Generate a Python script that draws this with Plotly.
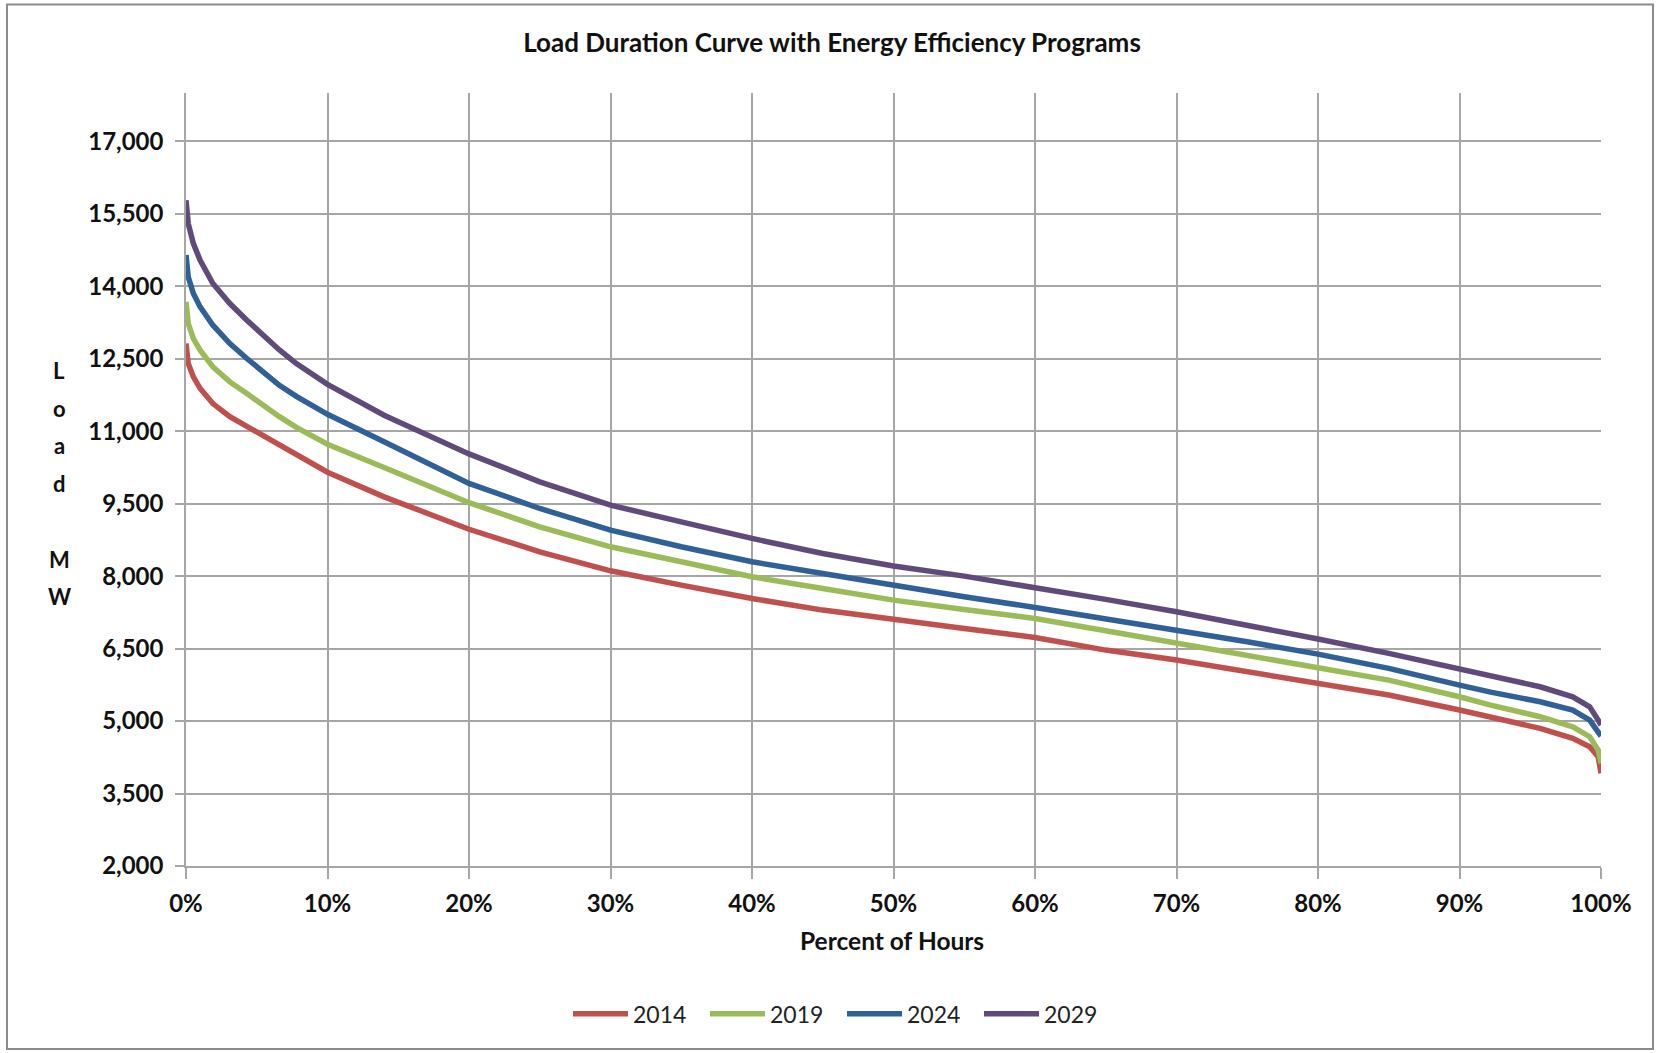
import plotly.graph_objects as go

# ---- data ----
pct_hours = [0, 0.16, 0.52, 1.0, 1.9, 3.1, 4.3, 5.5, 6.6, 7.8, 9.0, 10, 14, 20, 25,
             30, 35, 40, 45, 50, 55, 60, 65, 70, 75, 80, 85, 90, 92.2, 95.7, 98.0,
             99.2, 99.8, 100]
load_2014 = [12814, 12400, 12124, 11883, 11572, 11300, 11100, 10900, 10720, 10500,
             10300, 10150, 9641, 8970, 8503, 8110, 7814, 7538, 7297, 7095, 6918,
             6731, 6469, 6262, 6020, 5793, 5538, 5228, 5090, 4848, 4642, 4469,
             4262, 3918]
load_2019 = [13676, 13228, 12917, 12676, 12331, 12020, 11780, 11520, 11300, 11080,
             10880, 10730, 10250, 9520, 9020, 8607, 8297, 7986, 7745, 7503, 7311,
             7124, 6868, 6620, 6366, 6124, 5848, 5503, 5331, 5090, 4882, 4676,
             4400, 4125]
load_2024 = [14645, 14193, 13848, 13572, 13193, 12814, 12504, 12200, 11950, 11720,
             11510, 11350, 10780, 9920, 9400, 8952, 8607, 8297, 8056, 7800, 7572,
             7352, 7124, 6883, 6641, 6386, 6090, 5745, 5600, 5400, 5228, 5021,
             4779, 4690]
load_2029 = [15780, 15297, 14883, 14538, 14056, 13642, 13297, 12970, 12680, 12400,
             12150, 11970, 11330, 10530, 9952, 9469, 9124, 8780, 8469, 8210, 8000,
             7766, 7518, 7262, 6986, 6700, 6400, 6090, 5940, 5710, 5503, 5296,
             5021, 4917]
series_names = ["2014", "2019", "2024", "2029"]
y_ticks = [2000, 3500, 5000, 6500, 8000, 9500, 11000, 12500, 14000, 15500, 17000]
x_ticks = [0, 10, 20, 30, 40, 50, 60, 70, 80, 90, 100]
x_tick_labels = [f"{v}%" for v in x_ticks]
y_title_letters = ["L", "o", "a", "d", "", "M", "W"]

colors = ["#C0504D", "#9BBB59", "#2F6098", "#604A7B"]

W, H = 1659, 1053
L, R, T, B = 186, 1601, 92.5, 866  # plot-area pixel bounds
pw, ph = R - L, B - T

def px_x(px):
    return (px - L) / pw

def px_y(py):
    return (B - py) / ph

FONT = "Lato"
GRID = "#A6A6A6"

fig = go.Figure()
for name, ys, c in zip(series_names, [load_2014, load_2019, load_2024, load_2029], colors):
    fig.add_trace(go.Scatter(x=pct_hours, y=ys, mode="lines", name=name,
                             line=dict(color=c, width=5.5)))

fig.update_layout(
    width=W, height=H,
    margin=dict(l=L, r=W - R, t=T, b=H - B, pad=0),
    paper_bgcolor="white", plot_bgcolor="white",
    showlegend=True,
    legend=dict(orientation="h", x=px_x(842), xanchor="center",
                y=px_y(1014), yanchor="middle",
                font=dict(family=FONT, size=23, color="#222"),
                itemwidth=55, entrywidth=67, traceorder="normal"),
    title=dict(text="<b>Load Duration Curve with Energy Efficiency Programs</b>",
               x=832 / W, xanchor="center", y=1 - 43 / H, yanchor="middle",
               font=dict(family=FONT, size=26, color="#111")),
)

fig.update_xaxes(range=[0, 100], tickvals=x_ticks, ticktext=x_tick_labels,
                 showgrid=True, gridcolor=GRID, gridwidth=1.5,
                 showline=True, linecolor=GRID, linewidth=1.5,
                 ticks="outside", ticklen=11, tickcolor=GRID, tickwidth=1.5,
                 ticklabelstandoff=4,
                 tickfont=dict(family=FONT, size=24, color="#111", weight="bold"),
                 zeroline=False, fixedrange=True)
fig.update_yaxes(range=[2000, 18000], tickvals=y_ticks, tickformat=",",
                 showgrid=True, gridcolor=GRID, gridwidth=1.5,
                 showline=True, linecolor=GRID, linewidth=1.5,
                 ticks="outside", ticklen=9, tickcolor=GRID, tickwidth=1.5,
                 ticklabelstandoff=7,
                 tickfont=dict(family=FONT, size=24, color="#111", weight="bold"),
                 zeroline=False, fixedrange=True)

# x-axis title
fig.add_annotation(text="<b>Percent of Hours</b>", xref="paper", yref="paper",
                   x=px_x(892), y=px_y(941), xanchor="center", yanchor="middle",
                   showarrow=False, font=dict(family=FONT, size=24.5, color="#111"))

# stacked y-axis title letters
first_y, step = 370, 37.8
for i, ch in enumerate(y_title_letters):
    if not ch:
        continue
    fig.add_annotation(text="<b>" + ch + "</b>", xref="paper", yref="paper",
                       x=px_x(59), y=px_y(first_y + i * step),
                       xanchor="center", yanchor="middle", showarrow=False,
                       font=dict(family=FONT, size=22, color="#111"))

# outer chart border
fig.add_shape(type="rect", xref="paper", yref="paper",
              x0=px_x(7), x1=px_x(1653), y0=px_y(1049), y1=px_y(4),
              line=dict(color="#8C8C8C", width=2), fillcolor="rgba(0,0,0,0)",
              layer="below")

fig.write_html("out.html",
               config={"displayModeBar": False},
               post_script="document.body.style.margin='0';"
                           "document.body.style.overflow='hidden';")
